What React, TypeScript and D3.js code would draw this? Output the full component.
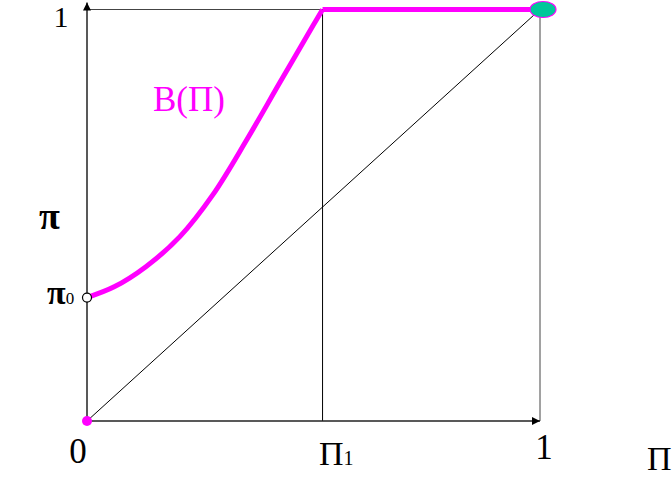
import React from "react";
import * as d3 from "d3";

// best-response curve B(Pi)
const curveX = [0, 0.06, 0.13, 0.205, 0.278, 0.353, 0.426, 0.499, 0.52];
const curveY = [0.3, 0.326, 0.375, 0.448, 0.55, 0.684, 0.823, 0.961, 1];
const pi0 = 0.3;
const pi1 = 0.52;
const flatX = [pi1, 1];
const flatY = [1, 1];
const diagX = [0, 1];
const diagY = [0, 1];

const W = 672;
const H = 481;
const FONT = "'Liberation Serif', 'Times New Roman', serif";

export default function App() {
  const x = d3.scaleLinear().domain([0, 1]).range([87, 540]);
  const y = d3.scaleLinear().domain([0, 1]).range([421, 9.5]);

  const line = d3
    .line<[number, number]>()
    .x((d) => x(d[0]))
    .y((d) => y(d[1]));
  const smooth = d3
    .line<[number, number]>()
    .x((d) => x(d[0]))
    .y((d) => y(d[1]))
    .curve(d3.curveCatmullRom.alpha(0.5));

  const curvePts = curveX.map((v, i) => [v, curveY[i]] as [number, number]);
  const flatPts = flatX.map((v, i) => [v, flatY[i]] as [number, number]);
  const diagPts = diagX.map((v, i) => [v, diagY[i]] as [number, number]);

  return (
    <svg
      width={W}
      height={H}
      style={{ position: "absolute", left: 0, top: 0, background: "#fff" }}
    >
      <defs>
        <marker
          id="arr"
          viewBox="0 0 10 10"
          refX={10}
          refY={5}
          markerWidth={8}
          markerHeight={8}
          markerUnits="userSpaceOnUse"
          orient="auto"
        >
          <path d="M0,0 L10,5 L0,10 z" fill="#000" />
        </marker>
      </defs>

      {/* frame: top and right edges of unit square */}
      <line x1={x(0)} y1={y(1)} x2={x(1)} y2={y(1)} stroke="#444" strokeWidth={1} />
      <line x1={x(1)} y1={y(1)} x2={x(1)} y2={y(0)} stroke="#444" strokeWidth={1} />

      {/* Pi1 vertical */}
      <line x1={x(pi1)} y1={y(0)} x2={x(pi1)} y2={y(1)} stroke="#000" strokeWidth={1} />

      {/* 45 degree line */}
      <path d={line(diagPts) || ""} stroke="#000" strokeWidth={1} fill="none" />

      {/* axes */}
      <line
        x1={x(0)}
        y1={y(0)}
        x2={x(0)}
        y2={y(1) - 7}
        stroke="#222"
        strokeWidth={1.5}
        markerEnd="url(#arr)"
      />
      <line
        x1={x(0)}
        y1={y(0)}
        x2={x(1)}
        y2={y(0)}
        stroke="#222"
        strokeWidth={1.5}
        markerEnd="url(#arr)"
      />

      {/* B(Pi) */}
      <path d={smooth(curvePts) || ""} stroke="#ff00ff" strokeWidth={5} fill="none" />
      <path d={line(flatPts) || ""} stroke="#ff00ff" strokeWidth={5} fill="none" />

      <circle cx={x(0)} cy={y(pi0)} r={4.5} fill="#fff" stroke="#000" strokeWidth={1.2} />
      <circle cx={x(0)} cy={y(0)} r={5} fill="#ff00ff" />
      <ellipse cx={x(1) + 3} cy={y(1)} rx={13} ry={8} fill="#00c89a" stroke="#ff00ff" strokeWidth={1.2} />

      <g fontFamily={FONT} fill="#000">
        <text x={61} y={27} fontSize={30} textAnchor="middle">1</text>
        <text x={39} y={229} fontSize={38} fontWeight="bold">π</text>
        <text x={47} y={304} fontSize={34} fontWeight="bold">
          π<tspan fontSize={17} fontWeight="normal">0</tspan>
        </text>
        <text x={78} y={463} fontSize={35} textAnchor="middle">0</text>
        <text x={319} y={465} fontSize={34}>
          Π<tspan fontSize={20}>1</tspan>
        </text>
        <text x={544} y={459} fontSize={35} textAnchor="middle">1</text>
        <text x={647} y={470} fontSize={34}>Π</text>
        <text x={153} y={111} fontSize={35} fill="#ff00ff">B(Π)</text>
      </g>
    </svg>
  );
}
